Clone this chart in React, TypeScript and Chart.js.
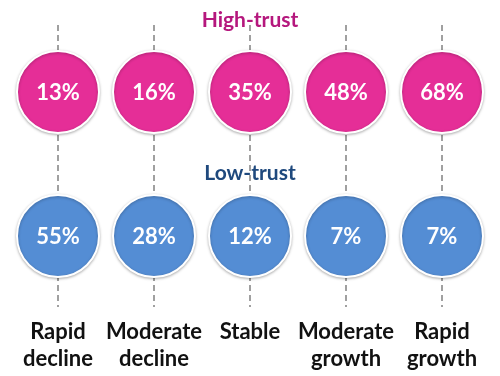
import { useEffect, useRef } from 'react';
import { Chart, registerables } from 'chart.js';

Chart.register(...registerables);

const categories: string[][] = [
  ['Rapid', 'decline'],
  ['Moderate', 'decline'],
  ['Stable'],
  ['Moderate', 'growth'],
  ['Rapid', 'growth'],
];
const seriesNames = ['High-trust', 'Low-trust'];
const highTrust = [13, 16, 35, 48, 68];
const lowTrust = [55, 28, 12, 7, 7];
const rows = [1, 0];

const circleColors = ['#E52E97', '#548DD4'];
const titleColors = ['#B5177D', '#1F497D'];
const titleOffsets = [72, 63];

const FONT = 'Lato, "Open Sans", sans-serif';

const textPlugin = {
  id: 'bubbleText',
  beforeDatasetsDraw(chart: any) {
    const ctx = chart.ctx;
    ctx.save();
    ctx.shadowColor = 'rgba(0,0,0,0.28)';
    ctx.shadowBlur = 3;
    ctx.shadowOffsetX = 0;
    ctx.shadowOffsetY = 1;
  },
  afterDatasetsDraw(chart: any) {
    const ctx = chart.ctx;
    ctx.restore();
    ctx.save();
    ctx.textAlign = 'center';
    ctx.textBaseline = 'middle';
    const area = chart.chartArea;
    const cx = (area.left + area.right) / 2;
    chart.data.datasets.forEach((ds: any, i: number) => {
      const meta = chart.getDatasetMeta(i);
      ctx.fillStyle = '#ffffff';
      ctx.font = `bold 22px ${FONT}`;
      meta.data.forEach((pt: any, j: number) => {
        ctx.fillText(`${ds.values[j]}%`, pt.x, pt.y + 1);
      });
      const y0 = meta.data[0].y;
      ctx.fillStyle = titleColors[i];
      ctx.font = `bold 21px ${FONT}`;
      ctx.fillText(ds.label, cx, y0 - titleOffsets[i]);
    });
    ctx.restore();
  },
};

export default function App() {
  const ref = useRef<HTMLCanvasElement | null>(null);
  useEffect(() => {
    if (!ref.current) return;
    const series = [highTrust, lowTrust];
    const chart = new Chart(ref.current, {
      type: 'scatter',
      data: {
        labels: categories as any,
        datasets: series.map((vals, i) => ({
          label: seriesNames[i],
          values: vals,
          data: vals.map((_, j) => ({ x: j, y: rows[i] })),
          pointRadius: 41,
          pointHoverRadius: 41,
          backgroundColor: circleColors[i],
          borderColor: '#ffffff',
          borderWidth: 2,
          clip: false,
        })) as any,
      },
      options: {
        animation: false,
        responsive: true,
        maintainAspectRatio: false,
        layout: { autoPadding: false, padding: { top: 25, left: 10, right: 10, bottom: 4 } },
        plugins: { legend: { display: false }, tooltip: { enabled: false }, title: { display: false } },
        scales: {
          x: {
            type: 'category',
            offset: true,
            border: { display: false, dash: [6, 4] },
            grid: {
              offset: false,
              drawTicks: false,
              color: '#A0A0A0',
              lineWidth: 2,
            },
            ticks: {
              padding: 11,
              color: '#111111',
              font: { family: FONT, size: 22, weight: 'bold', lineHeight: 1.24 },
              maxRotation: 0,
              autoSkip: false,
            },
            afterFit(scale: any) {
              scale.paddingLeft = 0;
              scale.paddingRight = 0;
              scale.height = 65;
            },
          },
          y: {
            display: false,
            min: -0.4931,
            max: 1.4653,
          },
        },
      } as any,
      plugins: [textPlugin],
    });
    return () => chart.destroy();
  }, []);
  return (
    <div style={{ position: 'fixed', left: 0, top: 0, width: 500, height: 376, background: '#fff' }}>
      <canvas ref={ref} />
    </div>
  );
}
